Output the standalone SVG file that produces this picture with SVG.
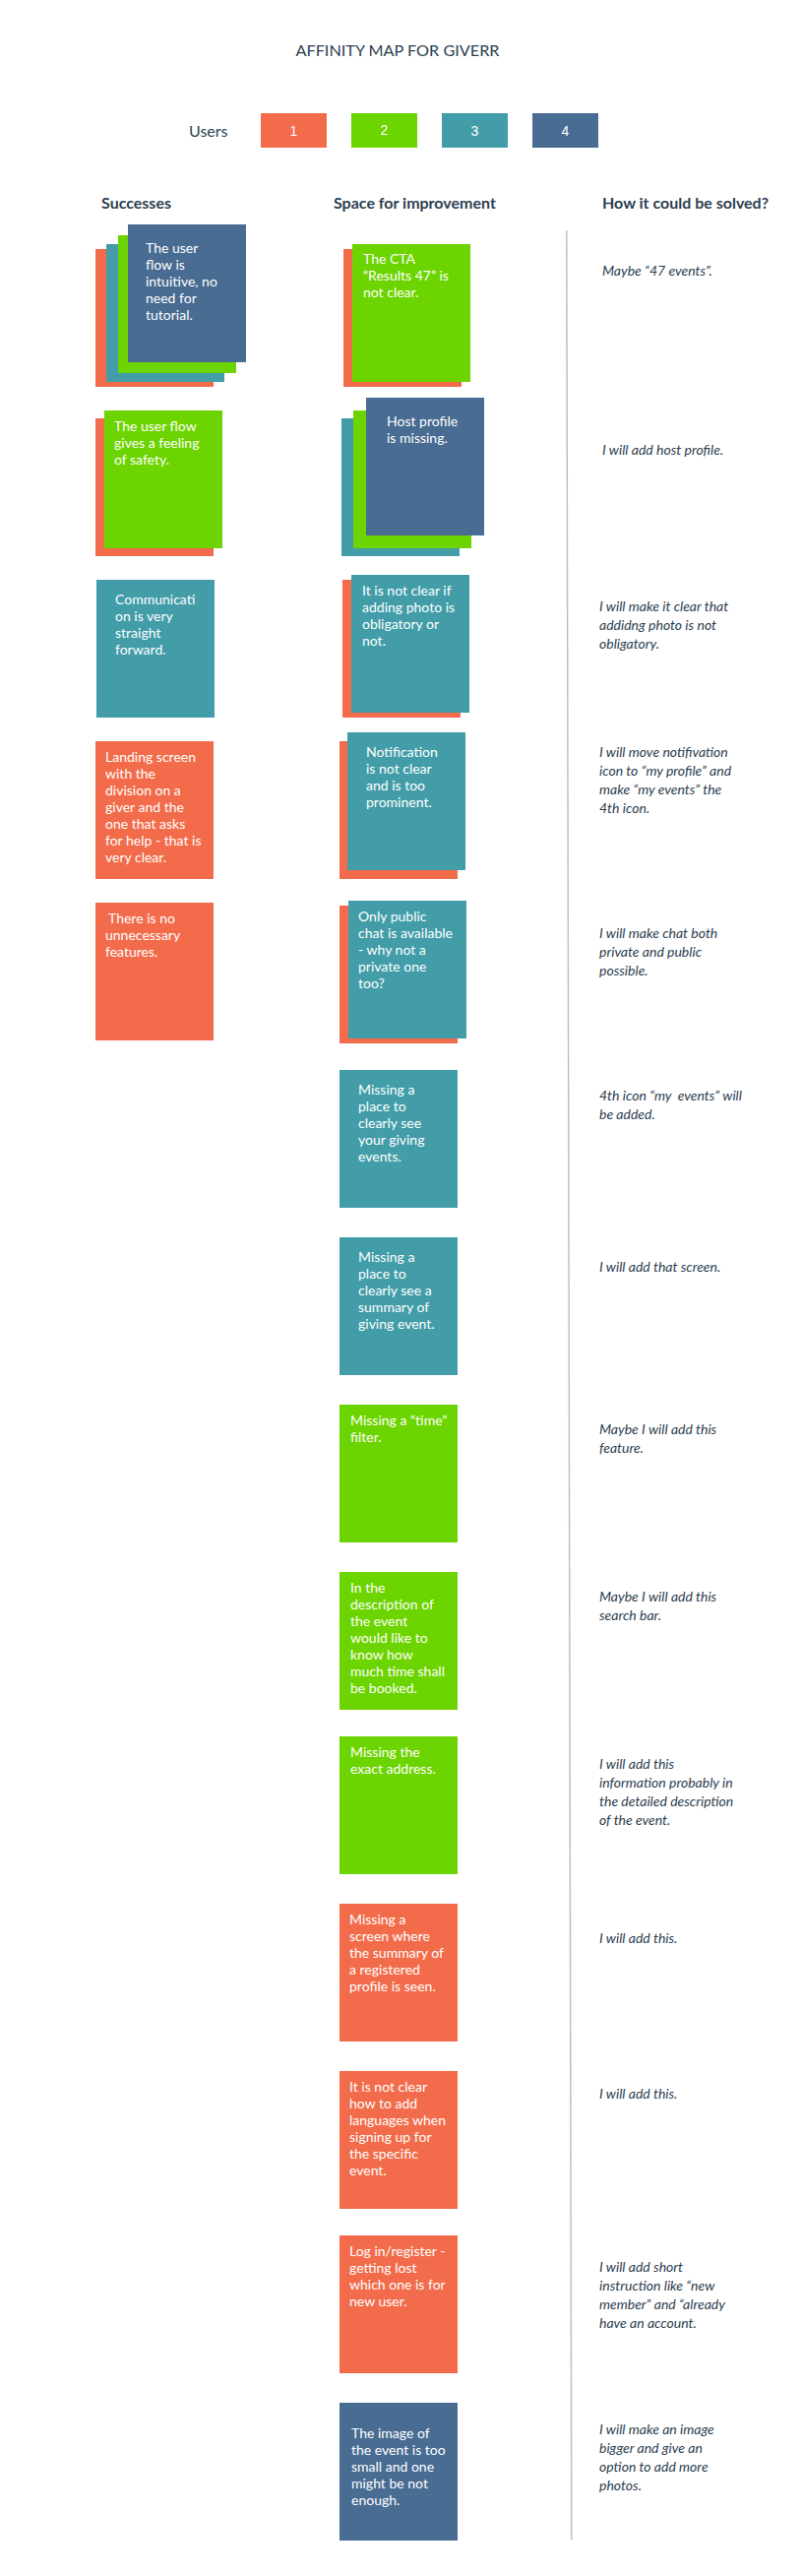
<svg xmlns="http://www.w3.org/2000/svg" width="815" height="2617" viewBox="0 0 815 2617">
<style>
.o{fill:#F26C4B}.g{fill:#6CD400}.t{fill:#429DA8}.b{fill:#486C92}
text{font-family:Lato,"Open Sans","Liberation Sans",sans-serif}
.ct{font-size:14px;fill:#ffffff}
.nt{font-size:14px;font-style:italic;fill:#2c3e50}
.hd{font-size:16px;font-weight:bold;fill:#2c3e50}
.ttl{font-size:16px;fill:#2c3e50}
.num{font-family:"Liberation Sans",Arial,sans-serif;font-size:14px;fill:#ffffff;text-anchor:middle}
</style>
<rect width="815" height="2617" fill="#ffffff"/>
<g id="title"><text class="ttl" x="404" y="57" text-anchor="middle" textLength="207" lengthAdjust="spacingAndGlyphs">AFFINITY MAP FOR GIVERR</text></g>
<g id="legend">
<text class="ttl" x="192" y="138.5">Users</text>
<rect class="o" x="265" y="115" width="67" height="35"/><text class="num" x="298.5" y="137.5">1</text>
<rect class="g" x="357" y="115" width="67" height="35"/><text class="num" x="390.5" y="137">2</text>
<rect class="t" x="449" y="115" width="67" height="35"/><text class="num" x="482.5" y="137.5">3</text>
<rect class="b" x="541" y="115" width="67" height="35"/><text class="num" x="574.5" y="137.5">4</text>
</g>
<g id="headers">
<text class="hd" x="103" y="212">Successes</text>
<text class="hd" x="339" y="212">Space for improvement</text>
<text class="hd" x="612" y="212">How it could be solved?</text>
</g>
<g id="connectors"><line x1="575.8" y1="234" x2="580.8" y2="2580" stroke="#bcbcbc" stroke-width="1.4"/></g>

<g id="s1">
<rect class="o" x="97" y="253" width="120" height="140"/>
<rect class="t" x="108" y="248" width="120" height="140"/>
<rect class="g" x="120" y="239" width="120" height="140"/>
<rect class="b" x="130" y="228" width="120" height="140"/>
<text class="ct" x="148" y="257"><tspan x="148">The user</tspan><tspan x="148" dy="17">flow is</tspan><tspan x="148" dy="17">intuitive, no</tspan><tspan x="148" dy="17">need for</tspan><tspan x="148" dy="17">tutorial.</tspan></text>
</g>
<g id="s2">
<rect class="o" x="97" y="425" width="120" height="140"/>
<rect class="g" x="106" y="417" width="120" height="140"/>
<text class="ct" x="116" y="438"><tspan x="116">The user flow</tspan><tspan x="116" dy="17">gives a feeling</tspan><tspan x="116" dy="17">of safety.</tspan></text>
</g>
<g id="s3">
<rect class="t" x="98" y="589" width="120" height="140"/>
<text class="ct" x="117" y="614"><tspan x="117">Communicati</tspan><tspan x="117" dy="17">on is very</tspan><tspan x="117" dy="17">straight</tspan><tspan x="117" dy="17">forward.</tspan></text>
</g>
<g id="s4">
<rect class="o" x="97" y="753" width="120" height="140"/>
<text class="ct" x="107" y="774"><tspan x="107">Landing screen</tspan><tspan x="107" dy="17">with the</tspan><tspan x="107" dy="17">division on a</tspan><tspan x="107" dy="17">giver and the</tspan><tspan x="107" dy="17">one that asks</tspan><tspan x="107" dy="17">for help - that is</tspan><tspan x="107" dy="17">very clear.</tspan></text>
</g>
<g id="s5">
<rect class="o" x="97" y="917" width="120" height="140"/>
<text class="ct" x="110" y="938"><tspan x="110">There is no</tspan><tspan x="107" dy="17">unnecessary</tspan><tspan x="107" dy="17">features.</tspan></text>
</g>

<g id="i1">
<rect class="o" x="349" y="253" width="120" height="140"/>
<rect class="g" x="358" y="248" width="120" height="140"/>
<text class="ct" x="369" y="268"><tspan x="369">The CTA</tspan><tspan x="369" dy="17">“Results 47” is</tspan><tspan x="369" dy="17">not clear.</tspan></text>
</g>
<g id="i2">
<rect class="t" x="347" y="425" width="120" height="140"/>
<rect class="g" x="359" y="417" width="120" height="140"/>
<rect class="b" x="372" y="404" width="120" height="140"/>
<text class="ct" x="393" y="433"><tspan x="393">Host profile</tspan><tspan x="393" dy="17">is missing.</tspan></text>
</g>
<g id="i3">
<rect class="o" x="348" y="589" width="120" height="140"/>
<rect class="t" x="357" y="584" width="120" height="140"/>
<text class="ct" x="368" y="605"><tspan x="368">It is not clear if</tspan><tspan x="368" dy="17">adding photo is</tspan><tspan x="368" dy="17">obligatory or</tspan><tspan x="368" dy="17">not.</tspan></text>
</g>
<g id="i4">
<rect class="o" x="345" y="753" width="120" height="140"/>
<rect class="t" x="353" y="744" width="120" height="140"/>
<text class="ct" x="372" y="769"><tspan x="372">Notification</tspan><tspan x="372" dy="17">is not clear</tspan><tspan x="372" dy="17">and is too</tspan><tspan x="372" dy="17">prominent.</tspan></text>
</g>
<g id="i5">
<rect class="o" x="345" y="920" width="120" height="140"/>
<rect class="t" x="354" y="915" width="120" height="140"/>
<text class="ct" x="364" y="936"><tspan x="364">Only public</tspan><tspan x="364" dy="17">chat is available</tspan><tspan x="364" dy="17">- why not a</tspan><tspan x="364" dy="17">private one</tspan><tspan x="364" dy="17">too?</tspan></text>
</g>
<g id="i6">
<rect class="t" x="345" y="1087" width="120" height="140"/>
<text class="ct" x="364" y="1112"><tspan x="364">Missing a</tspan><tspan x="364" dy="17">place to</tspan><tspan x="364" dy="17">clearly see</tspan><tspan x="364" dy="17">your giving</tspan><tspan x="364" dy="17">events.</tspan></text>
</g>
<g id="i7">
<rect class="t" x="345" y="1257" width="120" height="140"/>
<text class="ct" x="364" y="1282"><tspan x="364">Missing a</tspan><tspan x="364" dy="17">place to</tspan><tspan x="364" dy="17">clearly see a</tspan><tspan x="364" dy="17">summary of</tspan><tspan x="364" dy="17">giving event.</tspan></text>
</g>
<g id="i8">
<rect class="g" x="345" y="1427" width="120" height="140"/>
<text class="ct" x="356" y="1448"><tspan x="356">Missing a “time”</tspan><tspan x="356" dy="17">filter.</tspan></text>
</g>
<g id="i9">
<rect class="g" x="345" y="1597" width="120" height="140"/>
<text class="ct" x="356" y="1618"><tspan x="356">In the</tspan><tspan x="356" dy="17">description of</tspan><tspan x="356" dy="17">the event</tspan><tspan x="356" dy="17">would like to</tspan><tspan x="356" dy="17">know how</tspan><tspan x="356" dy="17">much time shall</tspan><tspan x="356" dy="17">be booked.</tspan></text>
</g>
<g id="i10">
<rect class="g" x="345" y="1764" width="120" height="140"/>
<text class="ct" x="356" y="1785"><tspan x="356">Missing the</tspan><tspan x="356" dy="17">exact address.</tspan></text>
</g>
<g id="i11">
<rect class="o" x="345" y="1934" width="120" height="140"/>
<text class="ct" x="355" y="1955"><tspan x="355">Missing a</tspan><tspan x="355" dy="17">screen where</tspan><tspan x="355" dy="17">the summary of</tspan><tspan x="355" dy="17">a registered</tspan><tspan x="355" dy="17">profile is seen.</tspan></text>
</g>
<g id="i12">
<rect class="o" x="345" y="2104" width="120" height="140"/>
<text class="ct" x="355" y="2125"><tspan x="355">It is not clear</tspan><tspan x="355" dy="17">how to add</tspan><tspan x="355" dy="17">languages when</tspan><tspan x="355" dy="17">signing up for</tspan><tspan x="355" dy="17">the specific</tspan><tspan x="355" dy="17">event.</tspan></text>
</g>
<g id="i13">
<rect class="o" x="345" y="2271" width="120" height="140"/>
<text class="ct" x="355" y="2292"><tspan x="355">Log in/register -</tspan><tspan x="355" dy="17">getting lost</tspan><tspan x="355" dy="17">which one is for</tspan><tspan x="355" dy="17">new user.</tspan></text>
</g>
<g id="i14">
<rect class="b" x="345" y="2441" width="120" height="140"/>
<text class="ct" x="357" y="2477"><tspan x="357">The image of</tspan><tspan x="357" dy="17">the event is too</tspan><tspan x="357" dy="17">small and one</tspan><tspan x="357" dy="17">might be not</tspan><tspan x="357" dy="17">enough.</tspan></text>
</g>

<g id="solutions">
<text class="nt" x="612" y="280">Maybe “47 events”.</text>
<text class="nt" x="612" y="462">I will add host profile.</text>
<text class="nt" x="609" y="621"><tspan x="609">I will make it clear that</tspan><tspan x="609" dy="19">addidng photo is not</tspan><tspan x="609" dy="19">obligatory.</tspan></text>
<text class="nt" x="609" y="769"><tspan x="609">I will move notifivation</tspan><tspan x="609" dy="19">icon to “my profile” and</tspan><tspan x="609" dy="19">make “my events” the</tspan><tspan x="609" dy="19">4th icon.</tspan></text>
<text class="nt" x="609" y="953"><tspan x="609">I will make chat both</tspan><tspan x="609" dy="19">private and public</tspan><tspan x="609" dy="19">possible.</tspan></text>
<text class="nt" x="609" y="1118"><tspan x="609">4th icon “my&#160; events” will</tspan><tspan x="609" dy="19">be added.</tspan></text>
<text class="nt" x="609" y="1292">I will add that screen.</text>
<text class="nt" x="609" y="1457"><tspan x="609">Maybe I will add this</tspan><tspan x="609" dy="19">feature.</tspan></text>
<text class="nt" x="609" y="1627"><tspan x="609">Maybe I will add this</tspan><tspan x="609" dy="19">search bar.</tspan></text>
<text class="nt" x="609" y="1797"><tspan x="609">I will add this</tspan><tspan x="609" dy="19">information probably in</tspan><tspan x="609" dy="19">the detailed description</tspan><tspan x="609" dy="19">of the event.</tspan></text>
<text class="nt" x="609" y="1974">I will add this.</text>
<text class="nt" x="609" y="2132">I will add this.</text>
<text class="nt" x="609" y="2308"><tspan x="609">I will add short</tspan><tspan x="609" dy="19">instruction like “new</tspan><tspan x="609" dy="19">member” and “already</tspan><tspan x="609" dy="19">have an account.</tspan></text>
<text class="nt" x="609" y="2473"><tspan x="609">I will make an image</tspan><tspan x="609" dy="19">bigger and give an</tspan><tspan x="609" dy="19">option to add more</tspan><tspan x="609" dy="19">photos.</tspan></text>
</g>
</svg>
